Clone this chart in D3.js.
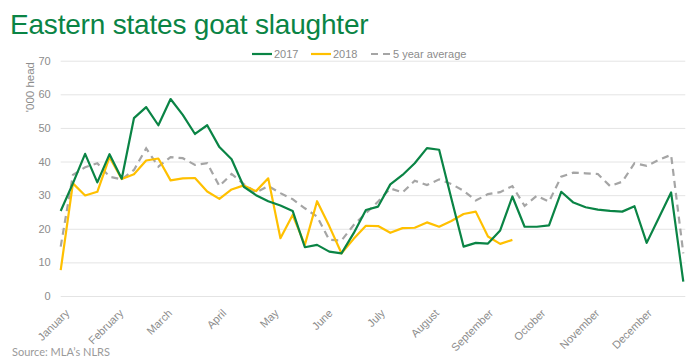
<!DOCTYPE html>
<html>
<head>
<meta charset="utf-8">
<script src="https://cdn.jsdelivr.net/npm/d3@7"></script>
<style>
  body { margin: 0; background: #fff; }
  text { font-family: "Liberation Sans", Arial, sans-serif; }
</style>
</head>
<body>
<div id="chart"></div>
<script>
// weekly slaughter, '000 head (week 1 .. week 52)
var series2017 = [25.3, 33.5, 42.3, 33.8, 42.2, 34.9, 52.9, 56.2, 50.8, 58.6,
                  53.9, 48.2, 50.8, 44.3, 40.7, 32.5, 30.0, 28.2, 26.9, 25.3,
                  14.5, 15.2, 13.2, 12.7, 18.7, 25.6, 26.6, 33.2, 36.0, 39.5,
                  44.0, 43.5, 29.0, 14.7, 15.8, 15.6, 19.5, 29.6, 20.6, 20.6,
                  21.0, 31.0, 27.8, 26.4, 25.7, 25.3, 25.1, 26.7, 15.8, 23.3,
                  30.8, 4.3];
var series2018 = [7.7, 33.5, 29.9, 31.0, 41.3, 34.8, 36.2, 40.3, 40.9, 34.4,
                  35.0, 35.1, 31.1, 28.9, 31.7, 32.9, 31.2, 35.0, 17.2, 24.1,
                  15.2, 28.2, 20.8, 12.7, 17.0, 20.9, 20.8, 18.8, 20.2, 20.3,
                  21.9, 20.6, 22.3, 24.4, 25.1, 17.7, 15.5, 16.7];
var seriesAvg = [14.7, 36.0, 38.3, 39.5, 35.5, 34.7, 37.5, 43.9, 38.5, 41.3,
                 41.0, 39.0, 39.5, 32.7, 36.3, 33.3, 30.8, 32.7, 30.6, 28.8,
                 26.1, 23.6, 16.7, 16.5, 21.1, 24.6, 28.1, 32.0, 30.8, 34.3,
                 33.0, 34.7, 33.3, 31.3, 28.4, 30.3, 30.9, 32.7, 26.8, 29.8,
                 28.1, 35.5, 36.7, 36.5, 36.3, 32.7, 34.0, 39.5, 38.7, 40.5,
                 42.0, 12.7];
var yTicks = [0, 10, 20, 30, 40, 50, 60, 70];
var legendNames = ["2017", "2018", "5 year average"];

var width = 700;
var height = 362;
var margin = {left: 60.7, right: 16.7, top: 60.7, bottom: 66};

var svg = d3.select("#chart")
    .append("svg")
    .attr("width", width)
    .attr("height", height);

var start = new Date(2017, 0, 1);
function weekDate(i) { return d3.timeDay.offset(start, i * 7); }

var x = d3.scaleTime()
    .domain([start, weekDate(51)])
    .range([margin.left, width - margin.right]);

var y = d3.scaleLinear()
    .domain([0, 70])
    .range([height - margin.bottom, margin.top]);

// title
svg.append("text")
    .attr("x", 10)
    .attr("y", 34)
    .attr("fill", "#0a8445")
    .style("font-size", "28px")
    .style("letter-spacing", "-0.2px")
    .text("Eastern states goat slaughter");

// gridlines + y labels
var yAxis = svg.append("g")
    .attr("transform", "translate(" + margin.left + ",0)")
    .call(d3.axisLeft(y).tickValues(yTicks).tickSize(-(width - margin.right - margin.left + 2)).tickPadding(10));
yAxis.select(".domain").remove();
yAxis.selectAll("line").attr("stroke", "#e4e4e4").attr("stroke-width", 1);
yAxis.selectAll("text").attr("fill", "#8c8c8c").style("font-size", "11px");

svg.append("text")
    .attr("transform", "translate(34,62) rotate(-90)")
    .attr("text-anchor", "end")
    .attr("fill", "#8c8c8c")
    .style("font-size", "11.5px")
    .text("'000 head");

// month labels
var xAxis = svg.append("g")
    .attr("transform", "translate(0," + (height - margin.bottom) + ")")
    .call(d3.axisBottom(x).ticks(d3.timeMonth.every(1)).tickFormat(d3.timeFormat("%B")).tickSize(0));
xAxis.select(".domain").remove();
xAxis.selectAll("text")
    .attr("fill", "#8c8c8c")
    .style("font-size", "11px")
    .attr("text-anchor", "end")
    .attr("x", 0)
    .attr("y", 0)
    .attr("dy", "0.75em")
    .attr("transform", "translate(3,12) rotate(-45)");

var line = d3.line()
    .x(function(d, i) { return x(weekDate(i)); })
    .y(function(d) { return y(d); });

svg.append("path")
    .datum(seriesAvg)
    .attr("fill", "none")
    .attr("stroke", "#a5a5a5")
    .attr("stroke-width", 2.2)
    .attr("stroke-dasharray", "7,5")
    .attr("d", line);

svg.append("path")
    .datum(series2018)
    .attr("fill", "none")
    .attr("stroke", "#ffc000")
    .attr("stroke-width", 2.2)
    .attr("stroke-linejoin", "round")
    .attr("d", line);

svg.append("path")
    .datum(series2017)
    .attr("fill", "none")
    .attr("stroke", "#0a8445")
    .attr("stroke-width", 2.2)
    .attr("stroke-linejoin", "round")
    .attr("d", line);

// legend
var legendColors = ["#0a8445", "#ffc000", "#a5a5a5"];
var legendX = [252, 311, 371];
var legend = svg.selectAll(".legend")
    .data(legendNames)
    .enter().append("g")
    .attr("class", "legend")
    .attr("transform", function(d, i) { return "translate(" + legendX[i] + ",54)"; });
legend.append("line")
    .attr("x1", 0).attr("x2", 20)
    .attr("stroke", function(d, i) { return legendColors[i]; })
    .attr("stroke-width", 2.2)
    .attr("stroke-dasharray", function(d, i) { return i == 2 ? "7,5" : null; });
legend.append("text")
    .attr("x", 22)
    .attr("y", 4)
    .attr("fill", "#8c8c8c")
    .style("font-size", "11px")
    .text(function(d) { return d; });

// source
svg.append("text")
    .attr("x", 12)
    .attr("y", 356)
    .attr("fill", "#9a9a9a")
    .style("font-family", "Lato, sans-serif")
    .style("font-size", "11px")
    .text("Source: MLA\u2019s NLRS");
</script>
</body>
</html>
